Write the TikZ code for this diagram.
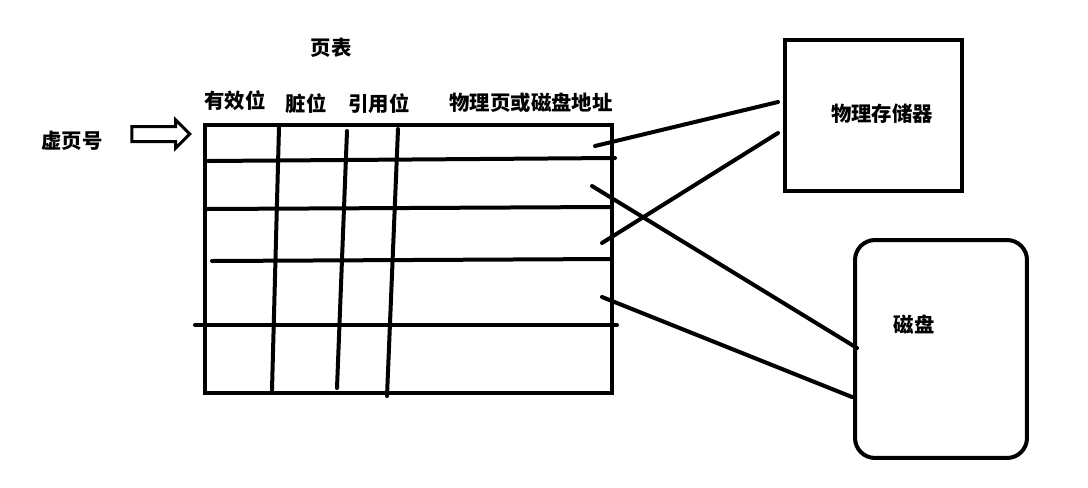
\documentclass[tikz,border=0pt]{standalone}
\usepackage{fontspec}
\setmainfont{Noto Sans CJK SC}
\usetikzlibrary{shapes.arrows}
\tikzset{lbl/.style={font=\bfseries\fontsize{11.6}{14}\selectfont,inner sep=0pt},box/.style={draw,line width=0.08cm,inner sep=0pt},pen/.style={line width=0.08cm,line cap=round},hollow/.style={draw,single arrow,line width=0.06cm,inner sep=0.12cm,minimum height=1.16cm,single arrow head extend=0.13cm}}

\begin{document}
\begin{tikzpicture}[x=0.02cm,y=-0.02cm]
\useasboundingbox (0,0) rectangle (1088,487);
\node[lbl] (title) at (331,48) {页表};\node[lbl] (valid) at (235,101) {有效位};\node[lbl] (dirty) at (306,104) {脏位};\node[lbl] (ref) at (379,104) {引用位};\node[lbl] (addr) at (531,103) {物理页或磁盘地址};
\node[lbl] (vpn) at (72,141) {虚页号};\node[hollow] (feed) at (157,134) {};
\node[box,minimum width=8.14cm,minimum height=5.36cm] (pt) at (408.5,259) {};
\node[box,minimum width=3.54cm,minimum height=3.02cm] (mem) at (873.5,115.5) {};\node[lbl] (memlbl) at (882,114) {物理存储器};
\node[box,rounded corners=0.4cm,minimum width=3.44cm,minimum height=4.36cm] (disk) at (941,349) {};\node[lbl] (disklbl) at (914,325) {磁盘};
% rows and columns
\draw[pen] (208,161) -- (615,158);\draw[pen] (207,209) -- (610,207);\draw[pen] (212,261) -- (612,259);\draw[pen] (195,325) -- (617,325);
\draw[pen] (279,127) -- (272,390);\draw[pen] (347,131) -- (337,388);\draw[pen] (398,129) -- (387,396);
% mapping lines
\coordinate (r1) at (595,146);\coordinate (r2) at (592,186);\coordinate (r3) at (602,243);\coordinate (r4) at (602,297);
\coordinate (m1) at (778,102);\coordinate (m2) at (778,133);\coordinate (d1) at (857,348);\coordinate (d2) at (852,397);
\draw[pen] (r1) -- (m1);\draw[pen] (r2) -- (d1);\draw[pen] (r3) -- (m2);\draw[pen] (r4) -- (d2);
\end{tikzpicture}
\end{document}
